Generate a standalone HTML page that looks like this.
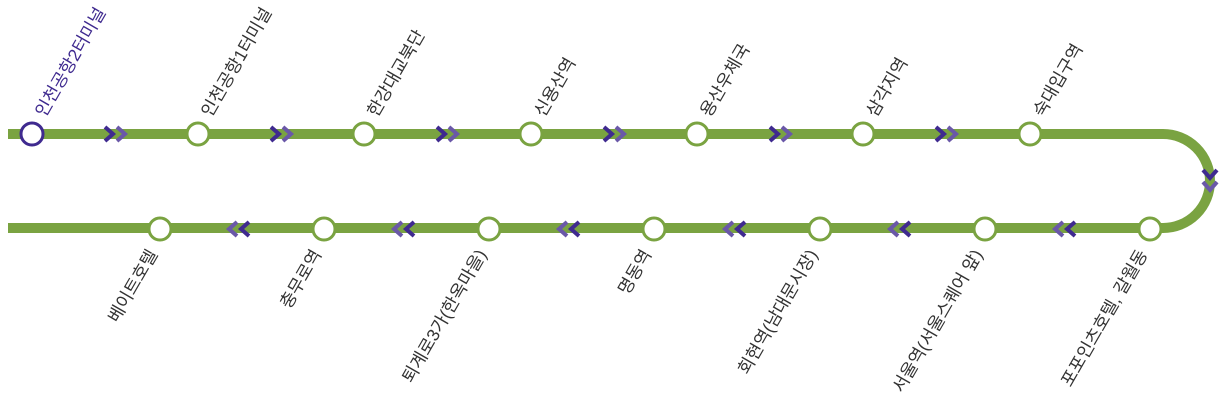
<!DOCTYPE html>
<html><head><meta charset="utf-8"><style>
html,body{margin:0;padding:0;background:#fff;}
svg{display:block;}
text{font-family:"Liberation Sans","Noto Sans CJK KR",sans-serif;font-size:17.5px;fill:#333;}
</style></head><body>
<svg width="1226" height="411" viewBox="0 0 1226 411" xmlns="http://www.w3.org/2000/svg">
<defs>
<g id="r"><polyline points="-7,-7 1,0 -7,7" fill="none" stroke="#3f2a8f" stroke-width="4"/><polyline points="5,-7 13,0 5,7" fill="none" stroke="#6a58a8" stroke-width="4"/></g>
<g id="l"><polyline points="7,-7 -1,0 7,7" fill="none" stroke="#3f2a8f" stroke-width="4"/><polyline points="-5,-7 -13,0 -5,7" fill="none" stroke="#6a58a8" stroke-width="4"/></g>
</defs>
<path d="M8,134 H1163 A47,47 0 0 1 1163,228 H8" fill="none" stroke="#7aa341" stroke-width="10"/>
<use href="#r" x="112" y="134"/><use href="#r" x="278" y="134"/><use href="#r" x="444" y="134"/><use href="#r" x="611" y="134"/><use href="#r" x="777" y="134"/><use href="#r" x="943" y="134"/>
<g transform="translate(1210,177) rotate(90)"><use href="#r" x="0" y="0"/></g>
<use href="#l" x="1068" y="229"/><use href="#l" x="903" y="229"/><use href="#l" x="738" y="229"/><use href="#l" x="572" y="229"/><use href="#l" x="407" y="229"/><use href="#l" x="242" y="229"/>
<g fill="#fff" stroke="#7aa341" stroke-width="3">
<circle cx="32" cy="134" r="11" stroke="#3f2a8f"/>
<circle cx="198" cy="134" r="11"/><circle cx="364" cy="134" r="11"/><circle cx="531" cy="134" r="11"/><circle cx="697" cy="134" r="11"/><circle cx="863" cy="134" r="11"/><circle cx="1030" cy="134" r="11"/>
<circle cx="1150" cy="229" r="11"/><circle cx="985" cy="229" r="11"/><circle cx="820" cy="229" r="11"/><circle cx="654" cy="229" r="11"/><circle cx="489" cy="229" r="11"/><circle cx="324" cy="229" r="11"/><circle cx="160" cy="229" r="11"/>
</g>
<text transform="translate(45,118) rotate(-60)" style="fill:#3f2a8f">인천공항2터미널</text>
<text transform="translate(211,118) rotate(-60)">인천공항1터미널</text>
<text transform="translate(377,118) rotate(-60)">한강대교북단</text>
<text transform="translate(544,118) rotate(-60)">신용산역</text>
<text transform="translate(710,118) rotate(-60)">용산우체국</text>
<text transform="translate(876,118) rotate(-60)">삼각지역</text>
<text transform="translate(1043,118) rotate(-60)">숙대입구역</text>
<g text-anchor="end">
<text transform="translate(1148,254) rotate(-60)">포포인츠호텔, 갈월동</text>
<text transform="translate(983,254) rotate(-60)">서울역(서울스퀘어 앞)</text>
<text transform="translate(818,254) rotate(-60)">회현역(남대문시장)</text>
<text transform="translate(652,254) rotate(-60)">명동역</text>
<text transform="translate(487,254) rotate(-60)">퇴계로3가(한옥마을)</text>
<text transform="translate(322,254) rotate(-60)">충무로역</text>
<text transform="translate(158,254) rotate(-60)">베이트호텔</text>
</g>
</svg>
</body></html>
